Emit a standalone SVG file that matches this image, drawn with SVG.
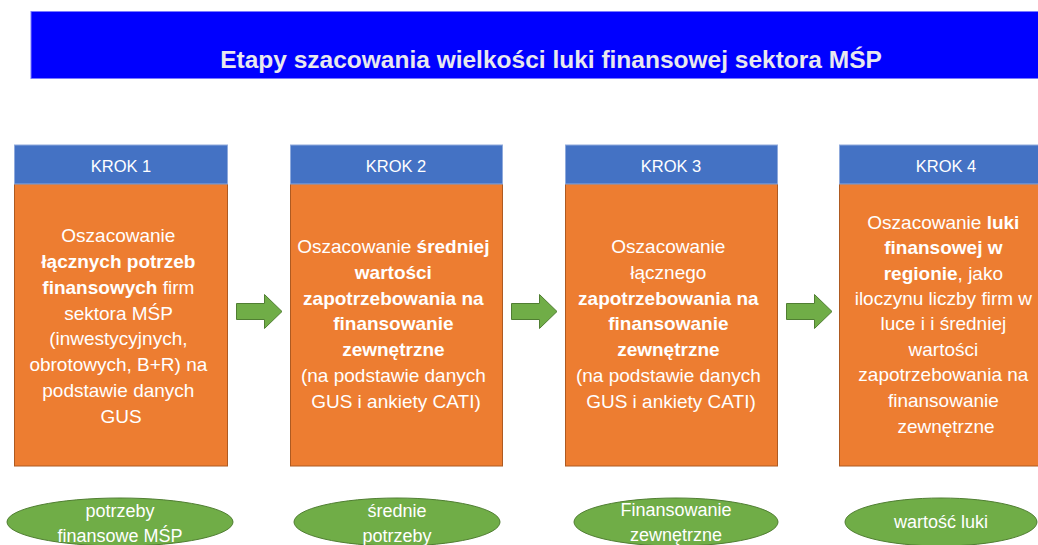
<svg xmlns="http://www.w3.org/2000/svg" width="1038" height="545" viewBox="0 0 1038 545">
<style>
.bg{fill:#ffffff}
.title{fill:#0000ff;stroke:#7b7bff;stroke-width:1}
.ttext{font-family:"Liberation Sans",Arial,sans-serif;font-weight:bold;font-size:24.5px;fill:#e8e8ee;text-anchor:middle}
.hdr{fill:#4472c4;stroke:#8faadc;stroke-width:1}
.body{fill:#ed7d31;stroke:#ae5a21;stroke-width:1}
.htext{font-family:"Liberation Sans",Arial,sans-serif;font-size:16.5px;fill:#ffffff;text-anchor:middle}
.btext{font-family:"Liberation Sans",Arial,sans-serif;font-size:19px;fill:#ffffff;text-anchor:middle}
.b{font-weight:bold}
.arrow{fill:#70ad47;stroke:#507e32;stroke-width:1}
.ell{fill:#70ad47;stroke:#507e32;stroke-width:1}
.etext{font-family:"Liberation Sans",Arial,sans-serif;font-size:18px;fill:#ffffff;text-anchor:middle}
</style>
<rect class="bg" x="0" y="0" width="1038" height="545"/>
<g id="title">
<rect class="title" x="31" y="11.5" width="1010" height="67"/>
<text class="ttext" x="551" y="68">Etapy szacowania wielkości luki finansowej sektora MŚP</text>
</g>
<g id="krok1">
<rect class="body" x="14.5" y="184" width="213" height="282"/>
<rect class="hdr" x="14.5" y="145" width="213" height="39"/>
<text class="htext" x="121" y="172">KROK 1</text>
<text class="btext">
<tspan x="121" y="242">Oszacowanie</tspan>
<tspan x="121" y="268" class="b">łącznych potrzeb</tspan>
<tspan x="121" y="294"><tspan class="b">finansowych</tspan> firm</tspan>
<tspan x="121" y="320">sektora MŚP</tspan>
<tspan x="121" y="345">(inwestycyjnych,</tspan>
<tspan x="121" y="371">obrotowych, B+R) na</tspan>
<tspan x="121" y="397">podstawie danych</tspan>
<tspan x="121" y="423">GUS</tspan>
</text>
</g>
<g id="krok2">
<rect class="body" x="290.5" y="184" width="212" height="282"/>
<rect class="hdr" x="290.5" y="145" width="212" height="39"/>
<text class="htext" x="396" y="172">KROK 2</text>
<text class="btext">
<tspan x="396" y="253">Oszacowanie <tspan class="b">średniej</tspan></tspan>
<tspan x="396" y="279" class="b">wartości</tspan>
<tspan x="396" y="305" class="b">zapotrzebowania na</tspan>
<tspan x="396" y="330" class="b">finansowanie</tspan>
<tspan x="396" y="356" class="b">zewnętrzne</tspan>
<tspan x="396" y="382">(na podstawie danych</tspan>
<tspan x="396" y="408">GUS i ankiety CATI)</tspan>
</text>
</g>
<g id="krok3">
<rect class="body" x="565.5" y="184" width="212" height="282"/>
<rect class="hdr" x="565.5" y="145" width="212" height="39"/>
<text class="htext" x="671" y="172">KROK 3</text>
<text class="btext">
<tspan x="671" y="253">Oszacowanie</tspan>
<tspan x="671" y="279">łącznego</tspan>
<tspan x="671" y="305" class="b">zapotrzebowania na</tspan>
<tspan x="671" y="330" class="b">finansowanie</tspan>
<tspan x="671" y="356" class="b">zewnętrzne</tspan>
<tspan x="671" y="382">(na podstawie danych</tspan>
<tspan x="671" y="408">GUS i ankiety CATI)</tspan>
</text>
</g>
<g id="krok4">
<rect class="body" x="839.5" y="184" width="213" height="282"/>
<rect class="hdr" x="839.5" y="145" width="213" height="39"/>
<text class="htext" x="946" y="172">KROK 4</text>
<text class="btext">
<tspan x="946" y="229">Oszacowanie <tspan class="b">luki</tspan></tspan>
<tspan x="946" y="254" class="b">finansowej w</tspan>
<tspan x="946" y="280"><tspan class="b">regionie</tspan>, jako</tspan>
<tspan x="946" y="305">iloczynu liczby firm w</tspan>
<tspan x="946" y="330">luce i  i średniej</tspan>
<tspan x="946" y="356">wartości</tspan>
<tspan x="946" y="381">zapotrzebowania na</tspan>
<tspan x="946" y="407">finansowanie</tspan>
<tspan x="946" y="433">zewnętrzne</tspan>
</text>
</g>
<g id="connectors">
<path class="arrow" d="M236.5,303.5 H264.5 V294.5 L282,311.5 L264.5,328.5 V319.5 H236.5 Z"/>
<path class="arrow" d="M511.5,303.5 H539.5 V294.5 L557,311.5 L539.5,328.5 V319.5 H511.5 Z"/>
<path class="arrow" d="M786.5,303.5 H814.5 V294.5 L832,311.5 L814.5,328.5 V319.5 H786.5 Z"/>
</g>
<g id="label1">
<ellipse class="ell" cx="120" cy="522" rx="113" ry="24"/>
<text class="etext"><tspan x="120" y="517">potrzeby</tspan><tspan x="120" y="542">finansowe MŚP</tspan></text>
</g>
<g id="label2">
<ellipse class="ell" cx="397" cy="522" rx="103" ry="24"/>
<text class="etext"><tspan x="397" y="517">średnie</tspan><tspan x="397" y="542">potrzeby</tspan></text>
</g>
<g id="label3">
<ellipse class="ell" cx="676" cy="522" rx="102" ry="24"/>
<text class="etext"><tspan x="676" y="516">Finansowanie</tspan><tspan x="676" y="541">zewnętrzne</tspan></text>
</g>
<g id="label4">
<ellipse class="ell" cx="941" cy="522" rx="96" ry="24"/>
<text class="etext" x="941" y="528">wartość luki</text>
</g>
</svg>
